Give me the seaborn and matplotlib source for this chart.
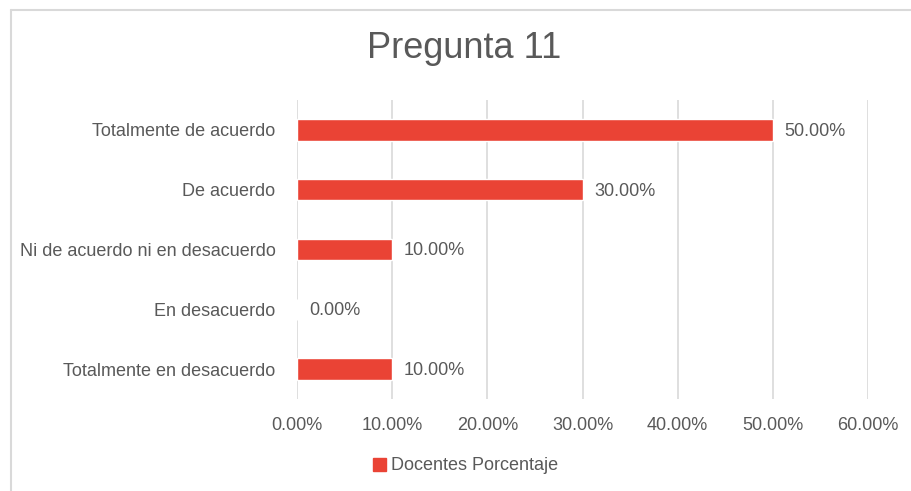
import matplotlib
matplotlib.use("Agg")
import matplotlib.pyplot as plt
import matplotlib.patches as mpatches
from matplotlib.ticker import FuncFormatter, MultipleLocator
from matplotlib import font_manager
import seaborn as sns
import pandas as pd

categories = [
    "Totalmente de acuerdo",
    "De acuerdo",
    "Ni de acuerdo ni en desacuerdo",
    "En desacuerdo",
    "Totalmente en desacuerdo",
]
porcentajes = [0.50, 0.30, 0.10, 0.00, 0.10]
serie = "Docentes Porcentaje"
titulo = "Pregunta 11"

sns.set_theme(style="white")
names = {f.name for f in font_manager.fontManager.ttflist}
family = "Liberation Sans Narrow" if "Liberation Sans Narrow" in names else "Liberation Sans"
plt.rcParams["font.family"] = [family, "DejaVu Sans"]

TEXT = "#595959"
RED = "#EA4335"
GRID = "#D9D9D9"

df = pd.DataFrame({"Respuesta": categories, serie: porcentajes})

fig = plt.figure(figsize=(9.11, 4.91), dpi=100)
ax = fig.add_axes([297 / 911, 1 - 399 / 491, (868 - 297) / 911, (399 - 100) / 491])

sns.barplot(data=df, y="Respuesta", x=serie, color=RED, width=0.36,
            saturation=1, ax=ax, orient="h")

ax.set_xlim(0, 0.60)
ax.xaxis.set_major_locator(MultipleLocator(0.10))
ax.xaxis.set_major_formatter(FuncFormatter(lambda v, _: f"{v * 100:.2f}%"))
ax.grid(axis="x", color=GRID, linewidth=1.2)
ax.set_axisbelow(True)
for s in ax.spines.values():
    s.set_visible(False)
ax.set_xlabel("")
ax.set_ylabel("")
ax.tick_params(axis="x", length=0, pad=13, labelsize=13, labelcolor=TEXT)
ax.tick_params(axis="y", length=0, pad=15.5, labelsize=13, labelcolor=TEXT)

for bar, v in zip(ax.patches, porcentajes):
    y = bar.get_y() + bar.get_height() / 2
    ax.annotate(f"{v * 100:.2f}%", xy=(v, y), xytext=(8.5, -1),
                textcoords="offset points", va="center", ha="left",
                fontsize=13, color=TEXT)

fig.text(464 / 911, 1 - 49 / 491, titulo, ha="center", va="center",
         fontsize=26, color=TEXT)

handle = mpatches.Patch(color=RED, label=serie)
fig.legend(handles=[handle], loc="center", bbox_to_anchor=(466 / 911, 1 - 466 / 491),
           frameon=False, fontsize=13, labelcolor=TEXT, handlelength=0.7,
           handleheight=0.7, handletextpad=0.3)

# chart frame
fig.add_artist(plt.Line2D([10.5 / 911, 1], [1 - 9.5 / 491] * 2, color=GRID,
                          linewidth=1.5, transform=fig.transFigure))
fig.add_artist(plt.Line2D([10.5 / 911] * 2, [0, 1 - 9.5 / 491], color=GRID,
                          linewidth=1.5, transform=fig.transFigure))

fig.savefig("out.png", dpi=100)
